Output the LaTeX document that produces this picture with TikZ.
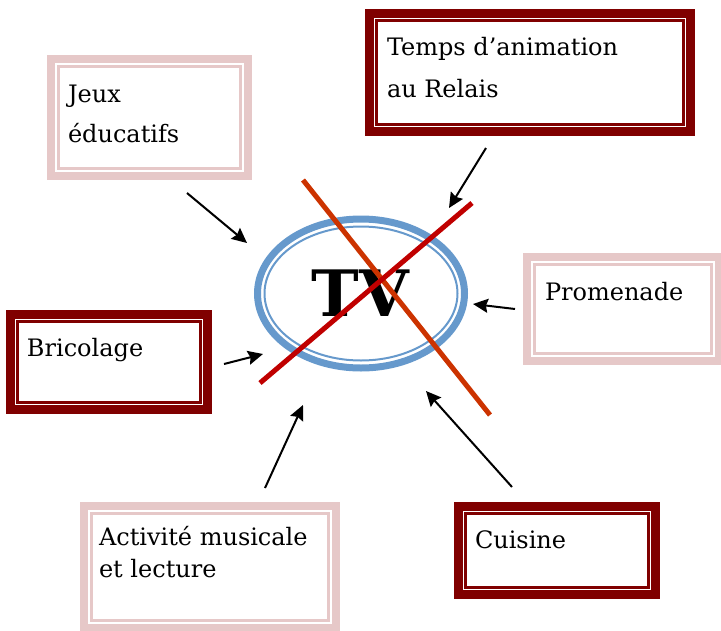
\documentclass[tikz,border=0pt]{standalone}
\usepackage{fontspec}
\setmainfont{DejaVu Serif}
\usepackage{xcolor}
\usetikzlibrary{arrows.meta, calc}
\definecolor{rosebox}{RGB}{230,200,200}
\definecolor{bordeaux}{RGB}{128,0,0}
\definecolor{tvblue}{RGB}{102,153,204}
\definecolor{crossorange}{RGB}{204,51,0}
\definecolor{crossred}{RGB}{192,0,0}

\begin{document}
\begin{tikzpicture}[x=1pt, y=-1pt, >={Stealth[length=15pt, width=14pt, inset=2pt]},
  every node/.style={inner sep=0pt, outer sep=0pt},
  pinkframe/.style={draw=rosebox, line width=8pt, rectangle},
  darkframe/.style={draw=bordeaux, line width=9pt, rectangle},
  boxtext/.style={anchor=base west, align=left, font=\fontsize{24}{40}\selectfont},
  arrowin/.style={->, line width=2pt}]
  \useasboundingbox (0,0) rectangle (721,630);
  % frames
  \node[pinkframe, minimum width=197pt, minimum height=117pt] (jeux) at (149.5,117.5) {};
  \node[darkframe, minimum width=321pt, minimum height=118pt] (temps) at (530,72.5) {};
  \node[darkframe, minimum width=197pt, minimum height=95pt] (bricolage) at (109,362) {};
  \node[pinkframe, minimum width=192pt, minimum height=104pt] (promenade) at (623,309) {};
  \node[pinkframe, minimum width=252pt, minimum height=122pt] (activite) at (210,567) {};
  \node[darkframe, minimum width=197pt, minimum height=88pt] (cuisine) at (557,550.5) {};
  \foreach \b in {jeux, promenade, activite}
    \draw[draw=rosebox, line width=2.5pt] ($(\b.north west)+(7.5,7.5)$) rectangle ($(\b.south east)+(-7.5,-7.5)$);
  \foreach \b in {temps, bricolage, cuisine}
    \draw[draw=bordeaux, line width=2.5pt] ($(\b.north west)+(7,7)$) rectangle ($(\b.south east)+(-7,-7)$);
  % texts (base = last line)
  \node[boxtext] (jeuxtxt) at (68,142) {Jeux\\éducatifs};
  \node[boxtext, font=\fontsize{24}{42}\selectfont] (tempstxt) at (387,97) {Temps d’animation\\au Relais};
  \node[boxtext] (bricotxt) at (27,356) {Bricolage};
  \node[boxtext] (prometxt) at (545,300) {Promenade};
  \node[boxtext, font=\fontsize{24}{32}\selectfont] (activtxt) at (99,577) {Activité musicale\\et lecture};
  \node[boxtext] (cuisitxt) at (475,548) {Cuisine};
  % centre
  \node[font=\fontsize{64}{64}\selectfont\bfseries] (tv) at (360.5,293.5) {TV};
  \draw[tvblue, line width=7pt] (361,293.5) ellipse [x radius=103.5, y radius=74.5];
  \draw[tvblue, line width=2pt] (361,293.5) ellipse [x radius=96.5, y radius=67];
  \draw[crossorange, line width=5pt] (303,180) -- (490,415);
  \draw[crossred, line width=5pt] (260,383) -- (472,203);
  % arrows
  \coordinate (fromjeux) at (187,193);  \coordinate (tojeux) at (247,243);
  \coordinate (fromtemps) at (486,148); \coordinate (totemps) at (449,208);
  \coordinate (fromprome) at (515,309); \coordinate (toprome) at (473,304);
  \coordinate (frombrico) at (224,364); \coordinate (tobrico) at (263,354);
  \coordinate (fromactiv) at (265,488); \coordinate (toactiv) at (303,405);
  \coordinate (fromcuisi) at (512,487); \coordinate (tocuisi) at (426,391);
  \draw[arrowin] (fromjeux) -- (tojeux);
  \draw[arrowin] (fromtemps) -- (totemps);
  \draw[arrowin] (fromprome) -- (toprome);
  \draw[arrowin] (frombrico) -- (tobrico);
  \draw[arrowin] (fromactiv) -- (toactiv);
  \draw[arrowin] (fromcuisi) -- (tocuisi);
\end{tikzpicture}
\end{document}
